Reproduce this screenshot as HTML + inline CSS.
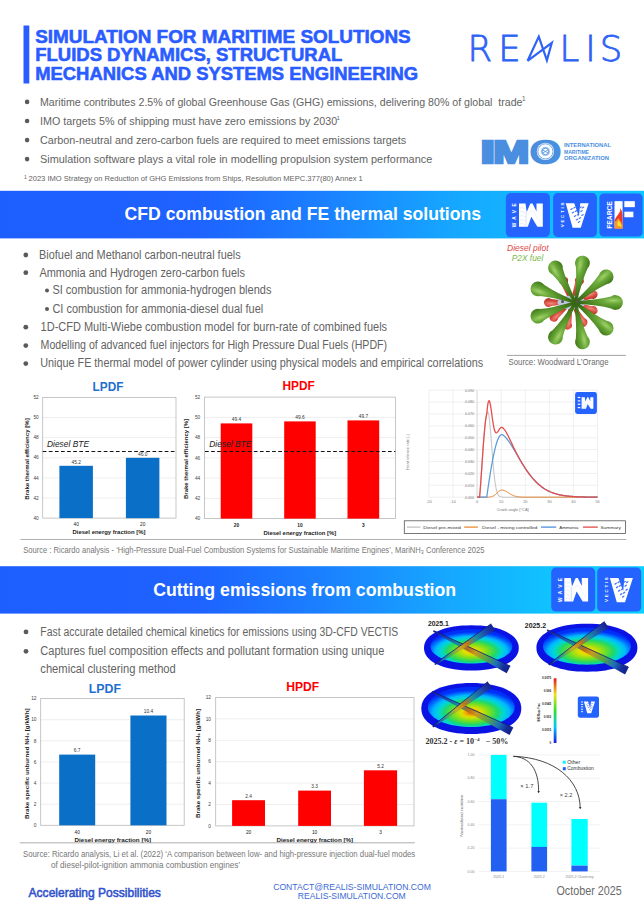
<!DOCTYPE html>
<html lang="en"><head><meta charset="utf-8"><title>Simulation for Maritime Solutions</title>
<style>html,body{margin:0;padding:0;background:#fff;width:644px;height:917px;overflow:hidden;}svg{display:block;}</style>
</head><body>
<svg width="644" height="917" viewBox="0 0 644 917" font-family="Liberation Sans, Arial, sans-serif">
<rect x="23.5" y="25.5" width="5.8" height="58.0" fill="#2a5cff"/>
<text x="35.2" y="43.0" font-size="17.5" font-weight="bold" fill="#2a5cff" textLength="375.5" lengthAdjust="spacingAndGlyphs" stroke="#2a5cff" stroke-width="0.55">SIMULATION FOR MARITIME SOLUTIONS</text>
<text x="35.2" y="61.2" font-size="17.5" font-weight="bold" fill="#2a5cff" textLength="307.2" lengthAdjust="spacingAndGlyphs" stroke="#2a5cff" stroke-width="0.55">FLUIDS DYNAMICS, STRUCTURAL</text>
<text x="35.2" y="79.5" font-size="17.5" font-weight="bold" fill="#2a5cff" textLength="383.0" lengthAdjust="spacingAndGlyphs" stroke="#2a5cff" stroke-width="0.55">MECHANICS AND SYSTEMS ENGINEERING</text>
<g font-family="DejaVu Sans, sans-serif" font-weight="200" font-size="35.5" fill="#2f63f5" stroke="#2f63f5" stroke-width="0.8"><text x="467.4" y="61.4">R</text><text x="498.3" y="61.4">E</text><text x="559.4" y="61.4">L</text><text x="585.2" y="61.4">I</text><text x="599.8" y="61.4">S</text></g>
<path d="M527.6 60.8 L538.8 36.6 L546.9 60.4 L551.8 42.8 Z" fill="none" stroke="#2f63f5" stroke-width="2.2" stroke-linejoin="miter"/>
<circle cx="27.1" cy="101.9" r="2.3" fill="#5a5a5a"/>
<text x="40.0" y="105.8" font-size="11.8" fill="#636363" textLength="482.5" lengthAdjust="spacingAndGlyphs">Maritime contributes 2.5% of global Greenhouse Gas (GHG) emissions, delivering 80% of global  trade</text>
<circle cx="27.1" cy="121.0" r="2.3" fill="#5a5a5a"/>
<text x="40.0" y="124.9" font-size="11.8" fill="#636363" textLength="297.2" lengthAdjust="spacingAndGlyphs">IMO targets 5% of shipping must have zero emissions by 2030</text>
<circle cx="27.1" cy="140.1" r="2.3" fill="#5a5a5a"/>
<text x="40.0" y="144.0" font-size="11.8" fill="#636363" textLength="366.2" lengthAdjust="spacingAndGlyphs">Carbon-neutral and zero-carbon fuels are required to meet emissions targets</text>
<circle cx="27.1" cy="159.1" r="2.3" fill="#5a5a5a"/>
<text x="40.0" y="163.0" font-size="11.8" fill="#636363" textLength="392.2" lengthAdjust="spacingAndGlyphs">Simulation software plays a vital role in modelling propulsion system performance</text>
<text x="522.0" y="101.2" font-size="6.4" fill="#636363">1</text>
<text x="336.5" y="120.0" font-size="6" fill="#636363">1</text>
<text x="24.0" y="178.5" font-size="5" fill="#636363">1</text>
<text x="28.5" y="181.0" font-size="7.6" fill="#636363" textLength="334.3" lengthAdjust="spacingAndGlyphs">2023 IMO Strategy on Reduction of GHG Emissions from Ships, Resolution MEPC.377(80) Annex 1</text>
<g font-size="31.5" font-weight="bold" fill="#4a8fdf" stroke="#4a8fdf" stroke-width="2.6" stroke-linejoin="miter"><text x="480.6" y="162.6" textLength="14.5" lengthAdjust="spacingAndGlyphs">I</text><text x="493.2" y="162.6" textLength="36" lengthAdjust="spacingAndGlyphs">M</text><text x="530.4" y="162.6" textLength="30.0" lengthAdjust="spacingAndGlyphs">O</text></g>
<circle cx="545.4" cy="151.4" r="8.6" fill="#fff"/>
<circle cx="545.4" cy="151.4" r="7.6" fill="none" stroke="#4a8fdf" stroke-width="0.8"/>
<circle cx="545.4" cy="151.4" r="4.6" fill="#9fc4ee"/>
<circle cx="545.4" cy="151.4" r="3.2" fill="#fff" stroke="#4a8fdf" stroke-width="0.8"/>
<path d="M542.5 149.8 L548.3 153.2 M542.5 153.2 L548.3 149.8" stroke="#4a8fdf" stroke-width="0.8"/>
<text x="564.0" y="146.8" font-size="6.2" font-weight="bold" fill="#4a8fdf" textLength="47.0" lengthAdjust="spacingAndGlyphs">INTERNATIONAL</text>
<text x="564.0" y="153.6" font-size="6.2" font-weight="bold" fill="#4a8fdf" textLength="25.0" lengthAdjust="spacingAndGlyphs">MARITIME</text>
<text x="564.0" y="160.4" font-size="6.2" font-weight="bold" fill="#4a8fdf" textLength="45.0" lengthAdjust="spacingAndGlyphs">ORGANIZATION</text>
<defs><linearGradient id="bg1" x1="0" y1="0" x2="644" y2="0" gradientUnits="userSpaceOnUse"><stop offset="0" stop-color="#1d5eff"/><stop offset="0.3" stop-color="#1e62ff"/><stop offset="0.5" stop-color="#1b80ff"/><stop offset="0.7" stop-color="#16a6ff"/><stop offset="0.85" stop-color="#12bbff"/><stop offset="1" stop-color="#0fc6ff"/></linearGradient><linearGradient id="bg2" x1="0" y1="0" x2="644" y2="0" gradientUnits="userSpaceOnUse"><stop offset="0" stop-color="#1d5eff"/><stop offset="0.3" stop-color="#1e62ff"/><stop offset="0.5" stop-color="#1b80ff"/><stop offset="0.7" stop-color="#16a8ff"/><stop offset="0.85" stop-color="#10c2ff"/><stop offset="1" stop-color="#0dd0ff"/></linearGradient></defs>
<rect x="0.0" y="190.8" width="644.0" height="47.6" fill="url(#bg1)"/>
<text x="124.6" y="220.4" font-size="18.6" font-weight="bold" fill="#fff" textLength="356.5" lengthAdjust="spacingAndGlyphs">CFD combustion and FE thermal solutions</text>
<rect x="505.9" y="193.0" width="44" height="44" rx="4.62" fill="#2563ff"/>
<path d="M519.00 203.50 L525.50 203.50 L526.70 211.90 L530.40 203.50 L532.50 203.50 L536.50 211.40 L536.50 203.50 L542.80 203.50 L542.80 226.80 L537.40 226.80 L531.30 216.80 L527.80 226.80 L519.00 226.80 Z" fill="#fff"/>
<path d="M526.10 212.00 L526.10 226.80" stroke="#b8ccff" stroke-width="0.60"/>
<path d="M519.70 208.00 Q522.90 206.50 525.30 209.20" fill="none" stroke="#c4d4ff" stroke-width="0.40"/>
<path d="M519.70 212.00 Q522.90 210.50 525.30 213.20" fill="none" stroke="#c4d4ff" stroke-width="0.40"/>
<path d="M519.70 216.00 Q522.90 214.50 525.30 217.20" fill="none" stroke="#c4d4ff" stroke-width="0.40"/>
<path d="M519.70 220.00 Q522.90 218.50 525.30 221.20" fill="none" stroke="#c4d4ff" stroke-width="0.40"/>
<path d="M519.70 224.00 Q522.90 222.50 525.30 225.20" fill="none" stroke="#c4d4ff" stroke-width="0.40"/>
<path d="M527.90 215.00 Q531.90 208.00 534.90 214.00 T540.90 223.00" fill="none" stroke="#d0defc" stroke-width="0.40"/>
<text transform="translate(516.30,227.30) rotate(-90)" font-size="4.80" font-weight="bold" fill="#fff" textLength="23.9" lengthAdjust="spacing">WAVE</text>
<rect x="553.1" y="193.1" width="43.8" height="43.8" rx="4.38" fill="#2563ff"/>
<path d="M565.74 203.35 L574.30 203.35 L578.88 216.69 L580.28 203.35 L588.64 203.35 L580.77 227.64 L572.61 227.64 Z" fill="#fff"/>
<ellipse cx="571.52" cy="209.03" rx="1.49" ry="0.70" fill="#4a78f5" transform="rotate(-35 571.52 209.03)"/>
<ellipse cx="574.50" cy="207.53" rx="1.49" ry="0.70" fill="#4a78f5" transform="rotate(-35 574.50 207.53)"/>
<ellipse cx="573.01" cy="212.51" rx="1.49" ry="0.70" fill="#4a78f5" transform="rotate(-35 573.01 212.51)"/>
<ellipse cx="576.00" cy="211.02" rx="1.49" ry="0.70" fill="#4a78f5" transform="rotate(-35 576.00 211.02)"/>
<ellipse cx="575.00" cy="216.00" rx="1.49" ry="0.70" fill="#4a78f5" transform="rotate(-35 575.00 216.00)"/>
<ellipse cx="577.99" cy="214.50" rx="1.49" ry="0.70" fill="#4a78f5" transform="rotate(-35 577.99 214.50)"/>
<ellipse cx="576.99" cy="219.48" rx="1.49" ry="0.70" fill="#4a78f5" transform="rotate(-35 576.99 219.48)"/>
<ellipse cx="579.98" cy="217.99" rx="1.49" ry="0.70" fill="#4a78f5" transform="rotate(-35 579.98 217.99)"/>
<ellipse cx="578.98" cy="221.97" rx="1.49" ry="0.70" fill="#4a78f5" transform="rotate(-35 578.98 221.97)"/>
<ellipse cx="581.47" cy="211.02" rx="1.49" ry="0.70" fill="#4a78f5" transform="rotate(-35 581.47 211.02)"/>
<ellipse cx="582.96" cy="207.53" rx="1.49" ry="0.70" fill="#4a78f5" transform="rotate(-35 582.96 207.53)"/>
<ellipse cx="582.47" cy="215.00" rx="1.49" ry="0.70" fill="#4a78f5" transform="rotate(-35 582.47 215.00)"/>
<ellipse cx="580.48" cy="207.24" rx="1.49" ry="0.70" fill="#4a78f5" transform="rotate(-35 580.48 207.24)"/>
<text transform="translate(563.85,227.24) rotate(-90)" font-size="4.38" font-weight="bold" fill="#fff" textLength="24.6" lengthAdjust="spacing">VECTIS</text>
<rect x="599.4" y="193.4" width="43.2" height="43.2" rx="4.32" fill="#2563ff"/>
<path d="M614.52 201.16 L622.57 201.16 L622.57 228.45 L614.52 228.45 Z" fill="#fff"/>
<path d="M624.34 201.16 L634.84 201.16 L634.84 207.15 L624.34 207.15 Z" fill="#fff"/>
<path d="M624.34 211.66 L633.37 211.66 L633.37 217.26 L624.34 217.26 Z" fill="#fff"/>
<path d="M614.72 228.45 L614.72 219.91 C616.09 216.96 618.05 215.00 619.04 213.04 C620.51 211.07 620.51 209.60 620.02 208.13 C622.47 210.09 622.57 215.00 622.57 217.95 L622.57 228.45 Z" fill="#f03a28"/>
<path d="M614.72 228.45 L614.72 221.87 C616.09 220.89 617.56 219.91 618.05 217.95 C620.02 219.91 621.98 222.85 622.57 225.80 L622.57 228.45 Z" fill="#f39a2a"/>
<path d="M617.56 225.80 C617.07 222.85 618.05 220.89 618.84 219.91 C619.53 221.87 621.00 223.84 621.49 226.78 Z" fill="#ffe030"/>
<text transform="translate(611.77,228.84) rotate(-90)" font-size="6.68" font-weight="bold" fill="#fff" textLength="27.7" lengthAdjust="spacingAndGlyphs">FEARCE</text>
<circle cx="25.8" cy="255.0" r="2.4" fill="#5a5a5a"/>
<text x="39.1" y="258.8" font-size="12.0" fill="#636363" textLength="201.5" lengthAdjust="spacingAndGlyphs">Biofuel and Methanol carbon-neutral fuels</text>
<circle cx="25.8" cy="272.7" r="2.4" fill="#5a5a5a"/>
<text x="39.4" y="276.5" font-size="12.0" fill="#636363" textLength="205.5" lengthAdjust="spacingAndGlyphs">Ammonia and Hydrogen zero-carbon fuels</text>
<circle cx="47.0" cy="290.4" r="2.0" fill="#5a5a5a"/>
<text x="52.4" y="294.2" font-size="12.0" fill="#636363" textLength="219.0" lengthAdjust="spacingAndGlyphs">SI combustion for ammonia-hydrogen blends</text>
<circle cx="47.0" cy="309.1" r="2.0" fill="#5a5a5a"/>
<text x="52.4" y="312.9" font-size="12.0" fill="#636363" textLength="210.8" lengthAdjust="spacingAndGlyphs">CI combustion for ammonia-diesel dual fuel</text>
<circle cx="25.8" cy="327.2" r="2.4" fill="#5a5a5a"/>
<text x="40.6" y="331.0" font-size="12.0" fill="#636363" textLength="346.5" lengthAdjust="spacingAndGlyphs">1D-CFD Multi-Wiebe combustion model for burn-rate of combined fuels</text>
<circle cx="25.8" cy="345.6" r="2.4" fill="#5a5a5a"/>
<text x="40.6" y="349.4" font-size="12.0" fill="#636363" textLength="346.5" lengthAdjust="spacingAndGlyphs">Modelling of advanced fuel injectors for High Pressure Dual Fuels (HPDF)</text>
<circle cx="25.8" cy="363.6" r="2.4" fill="#5a5a5a"/>
<text x="40.2" y="367.4" font-size="12.0" fill="#636363" textLength="443.0" lengthAdjust="spacingAndGlyphs">Unique FE thermal model of power cylinder using physical models and empirical correlations</text>
<text x="507.0" y="250.6" font-size="8.2" font-style="italic" fill="#e04848" textLength="41.5" lengthAdjust="spacingAndGlyphs">Diesel pilot</text>
<text x="511.8" y="261.0" font-size="8.2" font-style="italic" fill="#7cb84a" textLength="31.5" lengthAdjust="spacingAndGlyphs">P2X fuel</text>
<defs><radialGradient id="gg" cx="0.8" cy="0.36" r="0.75"><stop offset="0" stop-color="#a2d26a"/><stop offset="0.3" stop-color="#6aa83a"/><stop offset="0.72" stop-color="#4a8420"/><stop offset="1" stop-color="#376614"/></radialGradient><radialGradient id="rg" cx="0.75" cy="0.38" r="0.75"><stop offset="0" stop-color="#f08a7a"/><stop offset="0.4" stop-color="#d4483c"/><stop offset="1" stop-color="#9a2a1e"/></radialGradient></defs>
<g transform="translate(571.5,302.5) rotate(20.0)"><path d="M0 -1.2 Q12.88 -2.50 20.36 -3.52 A4.40 4.40 0 1 1 20.36 3.52 Q12.88 2.50 0 1.2 Z" fill="url(#rg)"/></g>
<g transform="translate(571.5,302.5) rotate(60.0)"><path d="M0 -1.2 Q12.88 -2.50 20.36 -3.52 A4.40 4.40 0 1 1 20.36 3.52 Q12.88 2.50 0 1.2 Z" fill="url(#rg)"/></g>
<g transform="translate(571.5,302.5) rotate(100.0)"><path d="M0 -1.2 Q12.88 -2.50 20.36 -3.52 A4.40 4.40 0 1 1 20.36 3.52 Q12.88 2.50 0 1.2 Z" fill="url(#rg)"/></g>
<g transform="translate(571.5,302.5) rotate(140.0)"><path d="M0 -1.2 Q12.88 -2.50 20.36 -3.52 A4.40 4.40 0 1 1 20.36 3.52 Q12.88 2.50 0 1.2 Z" fill="url(#rg)"/></g>
<g transform="translate(571.5,302.5) rotate(180.0)"><path d="M0 -1.2 Q12.88 -2.50 20.36 -3.52 A4.40 4.40 0 1 1 20.36 3.52 Q12.88 2.50 0 1.2 Z" fill="url(#rg)"/></g>
<g transform="translate(571.5,302.5) rotate(250.0)"><path d="M0 -1.2 Q12.88 -2.50 20.36 -3.52 A4.40 4.40 0 1 1 20.36 3.52 Q12.88 2.50 0 1.2 Z" fill="url(#rg)"/></g>
<g transform="translate(571.5,302.5) rotate(290.0)"><path d="M0 -1.2 Q12.88 -2.50 20.36 -3.52 A4.40 4.40 0 1 1 20.36 3.52 Q12.88 2.50 0 1.2 Z" fill="url(#rg)"/></g>
<g transform="translate(571.5,302.5) rotate(340.0)"><path d="M0 -1.2 Q12.88 -2.50 20.36 -3.52 A4.40 4.40 0 1 1 20.36 3.52 Q12.88 2.50 0 1.2 Z" fill="url(#rg)"/></g>
<ellipse cx="571.5" cy="302.5" rx="14" ry="7" fill="#bcc6dc"/>
<g transform="translate(575.5,302.5) rotate(-120.0)"><path d="M0 -1.3 Q22.98 -2.60 35.56 -5.92 A7.40 7.40 0 1 1 35.56 5.92 Q22.98 2.60 0 1.3 Z" fill="url(#gg)"/></g>
<g transform="translate(575.5,302.5) rotate(-80.0)"><path d="M0 -1.3 Q22.98 -2.60 35.56 -5.92 A7.40 7.40 0 1 1 35.56 5.92 Q22.98 2.60 0 1.3 Z" fill="url(#gg)"/></g>
<g transform="translate(575.5,302.5) rotate(-40.0)"><path d="M0 -1.3 Q22.98 -2.60 35.56 -5.92 A7.40 7.40 0 1 1 35.56 5.92 Q22.98 2.60 0 1.3 Z" fill="url(#gg)"/></g>
<g transform="translate(575.5,302.5) rotate(0.0)"><path d="M0 -1.3 Q22.98 -2.60 35.56 -5.92 A7.40 7.40 0 1 1 35.56 5.92 Q22.98 2.60 0 1.3 Z" fill="url(#gg)"/></g>
<g transform="translate(575.5,302.5) rotate(40.0)"><path d="M0 -1.3 Q22.98 -2.60 35.56 -5.92 A7.40 7.40 0 1 1 35.56 5.92 Q22.98 2.60 0 1.3 Z" fill="url(#gg)"/></g>
<g transform="translate(575.5,302.5) rotate(80.0)"><path d="M0 -1.3 Q22.98 -2.60 35.56 -5.92 A7.40 7.40 0 1 1 35.56 5.92 Q22.98 2.60 0 1.3 Z" fill="url(#gg)"/></g>
<g transform="translate(575.5,302.5) rotate(120.0)"><path d="M0 -1.3 Q22.98 -2.60 35.56 -5.92 A7.40 7.40 0 1 1 35.56 5.92 Q22.98 2.60 0 1.3 Z" fill="url(#gg)"/></g>
<g transform="translate(575.5,302.5) rotate(160.0)"><path d="M0 -1.3 Q22.98 -2.60 35.56 -5.92 A7.40 7.40 0 1 1 35.56 5.92 Q22.98 2.60 0 1.3 Z" fill="url(#gg)"/></g>
<g transform="translate(575.5,302.5) rotate(200.0)"><path d="M0 -1.3 Q22.98 -2.60 35.56 -5.92 A7.40 7.40 0 1 1 35.56 5.92 Q22.98 2.60 0 1.3 Z" fill="url(#gg)"/></g>
<circle cx="562.5" cy="301.5" r="1.5" fill="#555"/><circle cx="577.5" cy="301.5" r="1.5" fill="#555"/>
<line x1="507.0" y1="355.4" x2="626.0" y2="355.4" stroke="#8a8a8a" stroke-width="0.8"/>
<text x="508.5" y="364.7" font-size="8.5" fill="#6b6b6b" textLength="100.0" lengthAdjust="spacingAndGlyphs">Source: Woodward L’Orange</text>
<text x="38.8" y="519.8" font-size="4.8" text-anchor="end" fill="#444">40</text>
<line x1="42.7" y1="498.0" x2="176.0" y2="498.0" stroke="#e3e3e3" stroke-width="0.6"/>
<text x="38.8" y="499.7" font-size="4.8" text-anchor="end" fill="#444">42</text>
<line x1="42.7" y1="477.9" x2="176.0" y2="477.9" stroke="#e3e3e3" stroke-width="0.6"/>
<text x="38.8" y="479.6" font-size="4.8" text-anchor="end" fill="#444">44</text>
<line x1="42.7" y1="457.8" x2="176.0" y2="457.8" stroke="#e3e3e3" stroke-width="0.6"/>
<text x="38.8" y="459.4" font-size="4.8" text-anchor="end" fill="#444">46</text>
<line x1="42.7" y1="437.6" x2="176.0" y2="437.6" stroke="#e3e3e3" stroke-width="0.6"/>
<text x="38.8" y="439.3" font-size="4.8" text-anchor="end" fill="#444">48</text>
<line x1="42.7" y1="417.5" x2="176.0" y2="417.5" stroke="#e3e3e3" stroke-width="0.6"/>
<text x="38.8" y="419.2" font-size="4.8" text-anchor="end" fill="#444">50</text>
<text x="38.8" y="399.1" font-size="4.8" text-anchor="end" fill="#444">52</text>
<rect x="42.7" y="397.4" width="133.3" height="120.7" fill="none" stroke="#b8b8b8" stroke-width="0.8"/>
<rect x="59.4" y="465.8" width="33.5" height="52.3" fill="#0a6fc6"/>
<text x="76.2" y="463.6" font-size="4.8" text-anchor="middle" fill="#333">45.2</text>
<text x="76.2" y="526.3" font-size="4.8" text-anchor="middle" fill="#222">40</text>
<rect x="125.9" y="457.8" width="33.5" height="60.4" fill="#0a6fc6"/>
<text x="142.7" y="455.6" font-size="4.8" text-anchor="middle" fill="#333">46.0</text>
<text x="142.7" y="526.3" font-size="4.8" text-anchor="middle" fill="#222">20</text>
<text x="109.0" y="534.4" font-size="6.0" font-weight="bold" text-anchor="middle" fill="#222" textLength="73.0" lengthAdjust="spacingAndGlyphs">Diesel energy fraction [%]</text>
<text transform="translate(28.6,459.0) rotate(-90)" font-size="6.2" font-weight="bold" fill="#222" text-anchor="middle" textLength="81.5" lengthAdjust="spacingAndGlyphs">Brake thermal efficiency [%]</text>
<text x="200.3" y="520.3" font-size="4.8" text-anchor="end" fill="#444">40</text>
<line x1="204.5" y1="498.4" x2="395.4" y2="498.4" stroke="#e3e3e3" stroke-width="0.6"/>
<text x="200.3" y="500.1" font-size="4.8" text-anchor="end" fill="#444">42</text>
<line x1="204.5" y1="478.1" x2="395.4" y2="478.1" stroke="#e3e3e3" stroke-width="0.6"/>
<text x="200.3" y="479.8" font-size="4.8" text-anchor="end" fill="#444">44</text>
<line x1="204.5" y1="457.9" x2="395.4" y2="457.9" stroke="#e3e3e3" stroke-width="0.6"/>
<text x="200.3" y="459.6" font-size="4.8" text-anchor="end" fill="#444">46</text>
<line x1="204.5" y1="437.6" x2="395.4" y2="437.6" stroke="#e3e3e3" stroke-width="0.6"/>
<text x="200.3" y="439.3" font-size="4.8" text-anchor="end" fill="#444">48</text>
<line x1="204.5" y1="417.4" x2="395.4" y2="417.4" stroke="#e3e3e3" stroke-width="0.6"/>
<text x="200.3" y="419.1" font-size="4.8" text-anchor="end" fill="#444">50</text>
<text x="200.3" y="398.8" font-size="4.8" text-anchor="end" fill="#444">52</text>
<rect x="204.5" y="397.1" width="190.9" height="121.5" fill="none" stroke="#b8b8b8" stroke-width="0.8"/>
<rect x="220.7" y="423.4" width="31.6" height="95.2" fill="#ff0000"/>
<text x="236.5" y="421.2" font-size="4.8" text-anchor="middle" fill="#333">49.4</text>
<text x="236.5" y="526.8" font-size="4.8" font-weight="bold" text-anchor="middle" fill="#222">20</text>
<rect x="284.2" y="421.4" width="31.5" height="97.2" fill="#ff0000"/>
<text x="299.9" y="419.2" font-size="4.8" text-anchor="middle" fill="#333">49.6</text>
<text x="299.9" y="526.8" font-size="4.8" font-weight="bold" text-anchor="middle" fill="#222">10</text>
<rect x="347.5" y="420.4" width="31.7" height="98.2" fill="#ff0000"/>
<text x="363.4" y="418.2" font-size="4.8" text-anchor="middle" fill="#333">49.7</text>
<text x="363.4" y="526.8" font-size="4.8" font-weight="bold" text-anchor="middle" fill="#222">3</text>
<text x="299.9" y="534.9" font-size="6.0" font-weight="bold" text-anchor="middle" fill="#222" textLength="72.8" lengthAdjust="spacingAndGlyphs">Diesel energy fraction [%]</text>
<text transform="translate(187.9,459.0) rotate(-90)" font-size="6.2" font-weight="bold" fill="#222" text-anchor="middle" textLength="80.0" lengthAdjust="spacingAndGlyphs">Brake thermal efficiency [%]</text>
<text x="92.6" y="391.4" font-size="12.2" font-weight="bold" fill="#1f6fd0" textLength="30.8" lengthAdjust="spacingAndGlyphs">LPDF</text>
<text x="282.5" y="389.8" font-size="12.2" font-weight="bold" fill="#ff0000" textLength="32.3" lengthAdjust="spacingAndGlyphs">HPDF</text>
<line x1="42.7" y1="451.5" x2="175.8" y2="451.5" stroke="#111" stroke-width="1.2" stroke-dasharray="3.7 2.4"/>
<line x1="205.0" y1="451.5" x2="395.4" y2="451.5" stroke="#111" stroke-width="1.2" stroke-dasharray="3.7 2.4"/>
<text x="47.0" y="447.0" font-size="9.2" font-style="italic" fill="#222" textLength="42.0" lengthAdjust="spacingAndGlyphs">Diesel BTE</text>
<text x="209.3" y="447.3" font-size="9.2" font-style="italic" fill="#222" textLength="42.0" lengthAdjust="spacingAndGlyphs">Diesel BTE</text>
<line x1="429.0" y1="390.2" x2="429.0" y2="497.2" stroke="#e6e6e6" stroke-width="0.6"/>
<text x="429.0" y="502.8" font-size="3.8" text-anchor="middle" fill="#777">-20</text>
<line x1="453.1" y1="390.2" x2="453.1" y2="497.2" stroke="#e6e6e6" stroke-width="0.6"/>
<text x="453.1" y="502.8" font-size="3.8" text-anchor="middle" fill="#777">-10</text>
<line x1="477.1" y1="390.2" x2="477.1" y2="497.2" stroke="#e6e6e6" stroke-width="0.6"/>
<text x="477.1" y="502.8" font-size="3.8" text-anchor="middle" fill="#777">0</text>
<line x1="501.2" y1="390.2" x2="501.2" y2="497.2" stroke="#e6e6e6" stroke-width="0.6"/>
<text x="501.2" y="502.8" font-size="3.8" text-anchor="middle" fill="#777">10</text>
<line x1="525.3" y1="390.2" x2="525.3" y2="497.2" stroke="#e6e6e6" stroke-width="0.6"/>
<text x="525.3" y="502.8" font-size="3.8" text-anchor="middle" fill="#777">20</text>
<line x1="549.4" y1="390.2" x2="549.4" y2="497.2" stroke="#e6e6e6" stroke-width="0.6"/>
<text x="549.4" y="502.8" font-size="3.8" text-anchor="middle" fill="#777">30</text>
<line x1="573.4" y1="390.2" x2="573.4" y2="497.2" stroke="#e6e6e6" stroke-width="0.6"/>
<text x="573.4" y="502.8" font-size="3.8" text-anchor="middle" fill="#777">40</text>
<line x1="597.5" y1="390.2" x2="597.5" y2="497.2" stroke="#e6e6e6" stroke-width="0.6"/>
<text x="597.5" y="502.8" font-size="3.8" text-anchor="middle" fill="#777">50</text>
<line x1="429.0" y1="497.2" x2="597.5" y2="497.2" stroke="#e6e6e6" stroke-width="0.6"/>
<text x="473.9" y="498.5" font-size="3.6" text-anchor="end" fill="#777">0.000</text>
<line x1="429.0" y1="485.3" x2="597.5" y2="485.3" stroke="#e6e6e6" stroke-width="0.6"/>
<text x="473.9" y="486.6" font-size="3.6" text-anchor="end" fill="#777">0.010</text>
<line x1="429.0" y1="473.4" x2="597.5" y2="473.4" stroke="#e6e6e6" stroke-width="0.6"/>
<text x="473.9" y="474.7" font-size="3.6" text-anchor="end" fill="#777">0.020</text>
<line x1="429.0" y1="461.5" x2="597.5" y2="461.5" stroke="#e6e6e6" stroke-width="0.6"/>
<text x="473.9" y="462.8" font-size="3.6" text-anchor="end" fill="#777">0.030</text>
<line x1="429.0" y1="449.6" x2="597.5" y2="449.6" stroke="#e6e6e6" stroke-width="0.6"/>
<text x="473.9" y="450.9" font-size="3.6" text-anchor="end" fill="#777">0.040</text>
<line x1="429.0" y1="437.8" x2="597.5" y2="437.8" stroke="#e6e6e6" stroke-width="0.6"/>
<text x="473.9" y="439.1" font-size="3.6" text-anchor="end" fill="#777">0.050</text>
<line x1="429.0" y1="425.9" x2="597.5" y2="425.9" stroke="#e6e6e6" stroke-width="0.6"/>
<text x="473.9" y="427.2" font-size="3.6" text-anchor="end" fill="#777">0.060</text>
<line x1="429.0" y1="414.0" x2="597.5" y2="414.0" stroke="#e6e6e6" stroke-width="0.6"/>
<text x="473.9" y="415.3" font-size="3.6" text-anchor="end" fill="#777">0.070</text>
<line x1="429.0" y1="402.1" x2="597.5" y2="402.1" stroke="#e6e6e6" stroke-width="0.6"/>
<text x="473.9" y="403.4" font-size="3.6" text-anchor="end" fill="#777">0.080</text>
<line x1="429.0" y1="390.2" x2="597.5" y2="390.2" stroke="#e6e6e6" stroke-width="0.6"/>
<text x="473.9" y="391.5" font-size="3.6" text-anchor="end" fill="#777">0.090</text>
<line x1="477.1" y1="390.2" x2="477.1" y2="497.2" stroke="#cfcfcf" stroke-width="0.6"/>
<path d="M477.14 497.20 L477.74 497.20 L478.35 497.20 L478.95 497.20 L479.55 497.20 L480.15 490.82 L480.75 482.67 L481.36 473.87 L481.96 464.87 L482.56 455.97 L483.16 447.41 L483.76 439.42 L484.36 432.18 L484.97 425.86 L485.57 420.60 L486.17 416.51 L486.77 413.70 L487.37 412.20 L487.98 412.12 L488.58 413.91 L489.18 417.56 L489.78 422.84 L490.38 429.39 L490.98 436.80 L491.59 444.66 L492.19 452.56 L492.79 460.17 L493.39 467.19 L493.99 473.45 L494.59 478.84 L495.20 483.34 L495.80 486.98 L496.40 489.84 L497.00 492.03 L497.60 493.65 L498.21 494.82 L498.81 495.64 L499.41 496.20 L500.01 496.58 L500.61 496.82 L501.21 496.97 L501.82 497.07 L502.42 497.12 L503.02 497.16 L503.62 497.18 L504.22 497.19 L504.82 497.19 L505.43 497.20 L506.03 497.20 L506.63 497.20 L507.23 497.20 L507.83 497.20 L508.44 497.20 L509.04 497.20 L509.64 497.20 L510.24 497.20 L510.84 497.20 L511.44 497.20 L512.05 497.20 L512.65 497.20 L513.25 497.20 L513.85 497.20 L514.45 497.20 L515.06 497.20 L515.66 497.20 L516.26 497.20 L516.86 497.20 L517.46 497.20 L518.06 497.20 L518.67 497.20 L519.27 497.20 L519.87 497.20 L520.47 497.20 L521.07 497.20 L521.67 497.20 L522.28 497.20 L522.88 497.20 L523.48 497.20 L524.08 497.20 L524.68 497.20 L525.29 497.20 L525.89 497.20 L526.49 497.20 L527.09 497.20 L527.69 497.20 L528.29 497.20 L528.90 497.20 L529.50 497.20 L530.10 497.20 L530.70 497.20 L531.30 497.20 L531.91 497.20 L532.51 497.20 L533.11 497.20 L533.71 497.20 L534.31 497.20 L534.91 497.20 L535.52 497.20 L536.12 497.20 L536.72 497.20 L537.32 497.20 L537.92 497.20 L538.52 497.20 L539.13 497.20 L539.73 497.20 L540.33 497.20 L540.93 497.20 L541.53 497.20 L542.14 497.20 L542.74 497.20 L543.34 497.20 L543.94 497.20 L544.54 497.20 L545.14 497.20 L545.75 497.20 L546.35 497.20 L546.95 497.20 L547.55 497.20 L548.15 497.20 L548.76 497.20 L549.36 497.20 L549.96 497.20 L550.56 497.20 L551.16 497.20 L551.76 497.20 L552.37 497.20 L552.97 497.20 L553.57 497.20 L554.17 497.20 L554.77 497.20 L555.38 497.20 L555.98 497.20 L556.58 497.20 L557.18 497.20 L557.78 497.20 L558.38 497.20 L558.99 497.20 L559.59 497.20 L560.19 497.20 L560.79 497.20 L561.39 497.20 L561.99 497.20 L562.60 497.20 L563.20 497.20 L563.80 497.20 L564.40 497.20 L565.00 497.20 L565.61 497.20 L566.21 497.20 L566.81 497.20 L567.41 497.20 L568.01 497.20 L568.61 497.20 L569.22 497.20 L569.82 497.20 L570.42 497.20 L571.02 497.20 L571.62 497.20 L572.23 497.20 L572.83 497.20 L573.43 497.20 L574.03 497.20 L574.63 497.20 L575.23 497.20 L575.84 497.20 L576.44 497.20 L577.04 497.20 L577.64 497.20 L578.24 497.20 L578.84 497.20 L579.45 497.20 L580.05 497.20 L580.65 497.20 L581.25 497.20 L581.85 497.20 L582.46 497.20 L583.06 497.20 L583.66 497.20 L584.26 497.20 L584.86 497.20 L585.46 497.20 L586.07 497.20 L586.67 497.20 L587.27 497.20 L587.87 497.20 L588.47 497.20 L589.08 497.20 L589.68 497.20 L590.28 497.20 L590.88 497.20 L591.48 497.20 L592.08 497.20 L592.69 497.20 L593.29 497.20 L593.89 497.20 L594.49 497.20 L595.09 497.20 L595.69 497.20 L596.30 497.20 L596.90 497.20 L597.50 497.20" fill="none" stroke="#c8c8c8" stroke-width="1.1"/>
<path d="M477.14 497.20 L477.74 497.20 L478.35 497.20 L478.95 497.20 L479.55 497.20 L480.15 497.20 L480.75 497.20 L481.36 497.20 L481.96 497.20 L482.56 497.20 L483.16 497.20 L483.76 497.20 L484.36 497.20 L484.97 497.20 L485.57 497.20 L486.17 497.20 L486.77 497.20 L487.37 497.20 L487.98 497.20 L488.58 497.20 L489.18 497.07 L489.78 497.01 L490.38 496.93 L490.98 496.82 L491.59 496.68 L492.19 496.49 L492.79 496.26 L493.39 495.97 L493.99 495.63 L494.59 495.23 L495.20 494.77 L495.80 494.26 L496.40 493.71 L497.00 493.14 L497.60 492.55 L498.21 491.97 L498.81 491.44 L499.41 490.96 L500.01 490.57 L500.61 490.28 L501.21 490.11 L501.82 490.07 L502.42 490.11 L503.02 490.20 L503.62 490.35 L504.22 490.54 L504.82 490.78 L505.43 491.06 L506.03 491.37 L506.63 491.71 L507.23 492.07 L507.83 492.45 L508.44 492.83 L509.04 493.21 L509.64 493.59 L510.24 493.95 L510.84 494.31 L511.44 494.64 L512.05 494.95 L512.65 495.24 L513.25 495.51 L513.85 495.75 L514.45 495.97 L515.06 496.16 L515.66 496.33 L516.26 496.48 L516.86 496.60 L517.46 496.71 L518.06 496.80 L518.67 496.88 L519.27 496.94 L519.87 497.00 L520.47 497.04 L521.07 497.08 L521.67 497.10 L522.28 497.13 L522.88 497.14 L523.48 497.16 L524.08 497.17 L524.68 497.18 L525.29 497.18 L525.89 497.19 L526.49 497.19 L527.09 497.19 L527.69 497.20 L528.29 497.20 L528.90 497.20 L529.50 497.20 L530.10 497.20 L530.70 497.20 L531.30 497.20 L531.91 497.20 L532.51 497.20 L533.11 497.20 L533.71 497.20 L534.31 497.20 L534.91 497.20 L535.52 497.20 L536.12 497.20 L536.72 497.20 L537.32 497.20 L537.92 497.20 L538.52 497.20 L539.13 497.20 L539.73 497.20 L540.33 497.20 L540.93 497.20 L541.53 497.20 L542.14 497.20 L542.74 497.20 L543.34 497.20 L543.94 497.20 L544.54 497.20 L545.14 497.20 L545.75 497.20 L546.35 497.20 L546.95 497.20 L547.55 497.20 L548.15 497.20 L548.76 497.20 L549.36 497.20 L549.96 497.20 L550.56 497.20 L551.16 497.20 L551.76 497.20 L552.37 497.20 L552.97 497.20 L553.57 497.20 L554.17 497.20 L554.77 497.20 L555.38 497.20 L555.98 497.20 L556.58 497.20 L557.18 497.20 L557.78 497.20 L558.38 497.20 L558.99 497.20 L559.59 497.20 L560.19 497.20 L560.79 497.20 L561.39 497.20 L561.99 497.20 L562.60 497.20 L563.20 497.20 L563.80 497.20 L564.40 497.20 L565.00 497.20 L565.61 497.20 L566.21 497.20 L566.81 497.20 L567.41 497.20 L568.01 497.20 L568.61 497.20 L569.22 497.20 L569.82 497.20 L570.42 497.20 L571.02 497.20 L571.62 497.20 L572.23 497.20 L572.83 497.20 L573.43 497.20 L574.03 497.20 L574.63 497.20 L575.23 497.20 L575.84 497.20 L576.44 497.20 L577.04 497.20 L577.64 497.20 L578.24 497.20 L578.84 497.20 L579.45 497.20 L580.05 497.20 L580.65 497.20 L581.25 497.20 L581.85 497.20 L582.46 497.20 L583.06 497.20 L583.66 497.20 L584.26 497.20 L584.86 497.20 L585.46 497.20 L586.07 497.20 L586.67 497.20 L587.27 497.20 L587.87 497.20 L588.47 497.20 L589.08 497.20 L589.68 497.20 L590.28 497.20 L590.88 497.20 L591.48 497.20 L592.08 497.20 L592.69 497.20 L593.29 497.20 L593.89 497.20 L594.49 497.20 L595.09 497.20 L595.69 497.20 L596.30 497.20 L596.90 497.20 L597.50 497.20" fill="none" stroke="#e8822a" stroke-width="1"/>
<path d="M477.14 497.20 L477.74 497.20 L478.35 497.20 L478.95 497.20 L479.55 497.20 L480.15 497.20 L480.75 497.20 L481.36 497.20 L481.96 497.20 L482.56 497.20 L483.16 497.20 L483.76 497.20 L484.36 497.20 L484.97 497.20 L485.57 497.20 L486.17 497.20 L486.77 497.20 L487.37 492.66 L487.98 488.44 L488.58 484.36 L489.18 480.40 L489.78 476.56 L490.38 472.82 L490.98 469.21 L491.59 465.73 L492.19 462.39 L492.79 459.20 L493.39 456.17 L493.99 453.30 L494.59 450.62 L495.20 448.11 L495.80 445.80 L496.40 443.69 L497.00 441.79 L497.60 440.10 L498.21 438.64 L498.81 437.39 L499.41 436.38 L500.01 435.60 L500.61 435.05 L501.21 434.74 L501.82 434.67 L502.42 434.85 L503.02 435.15 L503.62 435.54 L504.22 436.01 L504.82 436.55 L505.43 437.15 L506.03 437.80 L506.63 438.50 L507.23 439.25 L507.83 440.04 L508.44 440.86 L509.04 441.71 L509.64 442.60 L510.24 443.51 L510.84 444.44 L511.44 445.40 L512.05 446.37 L512.65 447.36 L513.25 448.36 L513.85 449.37 L514.45 450.39 L515.06 451.41 L515.66 452.44 L516.26 453.48 L516.86 454.51 L517.46 455.55 L518.06 456.58 L518.67 457.61 L519.27 458.63 L519.87 459.65 L520.47 460.66 L521.07 461.66 L521.67 462.66 L522.28 463.64 L522.88 464.61 L523.48 465.57 L524.08 466.51 L524.68 467.45 L525.29 468.37 L525.89 469.27 L526.49 470.16 L527.09 471.03 L527.69 471.89 L528.29 472.73 L528.90 473.55 L529.50 474.35 L530.10 475.14 L530.70 475.91 L531.30 476.67 L531.91 477.40 L532.51 478.12 L533.11 478.82 L533.71 479.50 L534.31 480.16 L534.91 480.80 L535.52 481.43 L536.12 482.04 L536.72 482.63 L537.32 483.21 L537.92 483.77 L538.52 484.31 L539.13 484.83 L539.73 485.34 L540.33 485.83 L540.93 486.30 L541.53 486.76 L542.14 487.21 L542.74 487.64 L543.34 488.05 L543.94 488.45 L544.54 488.83 L545.14 489.21 L545.75 489.56 L546.35 489.91 L546.95 490.24 L547.55 490.56 L548.15 490.87 L548.76 491.16 L549.36 491.44 L549.96 491.71 L550.56 491.98 L551.16 492.23 L551.76 492.47 L552.37 492.70 L552.97 492.92 L553.57 493.13 L554.17 493.33 L554.77 493.52 L555.38 493.71 L555.98 493.88 L556.58 494.05 L557.18 494.21 L557.78 494.37 L558.38 494.52 L558.99 494.66 L559.59 494.79 L560.19 494.92 L560.79 495.04 L561.39 495.15 L561.99 495.26 L562.60 495.37 L563.20 495.47 L563.80 495.56 L564.40 495.65 L565.00 495.74 L565.61 495.82 L566.21 495.90 L566.81 495.97 L567.41 496.04 L568.01 496.11 L568.61 496.17 L569.22 496.23 L569.82 496.28 L570.42 496.34 L571.02 496.39 L571.62 496.44 L572.23 496.48 L572.83 496.52 L573.43 496.56 L574.03 496.60 L574.63 496.64 L575.23 496.67 L575.84 496.70 L576.44 496.73 L577.04 496.76 L577.64 496.79 L578.24 496.82 L578.84 496.84 L579.45 496.86 L580.05 496.88 L580.65 496.90 L581.25 496.92 L581.85 496.94 L582.46 496.96 L583.06 496.97 L583.66 496.99 L584.26 497.00 L584.86 497.01 L585.46 497.03 L586.07 497.04 L586.67 497.05 L587.27 497.06 L587.87 497.07 L588.47 497.08 L589.08 497.08 L589.68 497.09 L590.28 497.10 L590.88 497.11 L591.48 497.11 L592.08 497.12 L592.69 497.12 L593.29 497.13 L593.89 497.13 L594.49 497.14 L595.09 497.14 L595.69 497.15 L596.30 497.15 L596.90 497.15 L597.50 497.16" fill="none" stroke="#5b9bd8" stroke-width="1.25"/>
<path d="M477.14 497.20 L477.74 497.20 L478.35 497.20 L478.95 497.20 L479.55 497.20 L480.15 490.82 L480.75 482.67 L481.36 473.87 L481.96 464.87 L482.56 455.97 L483.16 447.41 L483.76 439.42 L484.36 432.18 L484.97 425.86 L485.57 420.60 L486.17 416.51 L486.77 413.70 L487.37 407.66 L487.98 403.36 L488.58 401.07 L489.18 400.64 L489.78 402.00 L490.38 404.74 L490.98 408.43 L491.59 412.67 L492.19 417.05 L492.79 421.23 L493.39 424.93 L493.99 427.99 L494.59 430.29 L495.20 431.83 L495.80 432.65 L496.40 432.85 L497.00 432.55 L497.60 431.90 L498.21 431.03 L498.81 430.07 L499.41 429.14 L500.01 428.34 L500.61 427.75 L501.21 427.42 L501.82 427.41 L502.42 427.68 L503.02 428.10 L503.62 428.66 L504.22 429.34 L504.82 430.12 L505.43 431.00 L506.03 431.97 L506.63 433.02 L507.23 434.12 L507.83 435.28 L508.44 436.49 L509.04 437.73 L509.64 438.99 L510.24 440.26 L510.84 441.55 L511.44 442.84 L512.05 444.12 L512.65 445.40 L513.25 446.67 L513.85 447.92 L514.45 449.15 L515.06 450.37 L515.66 451.57 L516.26 452.75 L516.86 453.91 L517.46 455.06 L518.06 456.18 L518.67 457.29 L519.27 458.38 L519.87 459.45 L520.47 460.50 L521.07 461.54 L521.67 462.56 L522.28 463.56 L522.88 464.55 L523.48 465.53 L524.08 466.48 L524.68 467.42 L525.29 468.35 L525.89 469.26 L526.49 470.15 L527.09 471.02 L527.69 471.88 L528.29 472.72 L528.90 473.55 L529.50 474.35 L530.10 475.14 L530.70 475.91 L531.30 476.66 L531.91 477.40 L532.51 478.12 L533.11 478.82 L533.71 479.50 L534.31 480.16 L534.91 480.80 L535.52 481.43 L536.12 482.04 L536.72 482.63 L537.32 483.21 L537.92 483.77 L538.52 484.31 L539.13 484.83 L539.73 485.34 L540.33 485.83 L540.93 486.30 L541.53 486.76 L542.14 487.21 L542.74 487.64 L543.34 488.05 L543.94 488.45 L544.54 488.83 L545.14 489.21 L545.75 489.56 L546.35 489.91 L546.95 490.24 L547.55 490.56 L548.15 490.87 L548.76 491.16 L549.36 491.44 L549.96 491.71 L550.56 491.98 L551.16 492.23 L551.76 492.47 L552.37 492.70 L552.97 492.92 L553.57 493.13 L554.17 493.33 L554.77 493.52 L555.38 493.71 L555.98 493.88 L556.58 494.05 L557.18 494.21 L557.78 494.37 L558.38 494.52 L558.99 494.66 L559.59 494.79 L560.19 494.92 L560.79 495.04 L561.39 495.15 L561.99 495.26 L562.60 495.37 L563.20 495.47 L563.80 495.56 L564.40 495.65 L565.00 495.74 L565.61 495.82 L566.21 495.90 L566.81 495.97 L567.41 496.04 L568.01 496.11 L568.61 496.17 L569.22 496.23 L569.82 496.28 L570.42 496.34 L571.02 496.39 L571.62 496.44 L572.23 496.48 L572.83 496.52 L573.43 496.56 L574.03 496.60 L574.63 496.64 L575.23 496.67 L575.84 496.70 L576.44 496.73 L577.04 496.76 L577.64 496.79 L578.24 496.82 L578.84 496.84 L579.45 496.86 L580.05 496.88 L580.65 496.90 L581.25 496.92 L581.85 496.94 L582.46 496.96 L583.06 496.97 L583.66 496.99 L584.26 497.00 L584.86 497.01 L585.46 497.03 L586.07 497.04 L586.67 497.05 L587.27 497.06 L587.87 497.07 L588.47 497.08 L589.08 497.08 L589.68 497.09 L590.28 497.10 L590.88 497.11 L591.48 497.11 L592.08 497.12 L592.69 497.12 L593.29 497.13 L593.89 497.13 L594.49 497.14 L595.09 497.14 L595.69 497.15 L596.30 497.15 L596.90 497.15 L597.50 497.16" fill="none" stroke="#e64e4e" stroke-width="1.3"/>
<text transform="translate(408.6,452.0) rotate(-90)" font-size="4" fill="#777" text-anchor="middle">Heat release rate [-]</text>
<text x="512.7" y="511.0" font-size="4" text-anchor="middle" fill="#777">Crank angle [°CA]</text>
<rect x="575.1" y="392.1" width="21.8" height="21.8" rx="2.289" fill="#2563ff"/>
<path d="M581.59 397.30 L584.81 397.30 L585.41 401.46 L587.24 397.30 L588.28 397.30 L590.26 401.22 L590.26 397.30 L593.38 397.30 L593.38 408.85 L590.71 408.85 L587.68 403.89 L585.95 408.85 L581.59 408.85 Z" fill="#fff"/>
<path d="M585.11 401.51 L585.11 408.85" stroke="#b8ccff" stroke-width="0.30"/>
<path d="M581.94 399.53 Q583.52 398.79 584.71 400.13" fill="none" stroke="#c4d4ff" stroke-width="0.20"/>
<path d="M581.94 401.51 Q583.52 400.77 584.71 402.11" fill="none" stroke="#c4d4ff" stroke-width="0.20"/>
<path d="M581.94 403.50 Q583.52 402.75 584.71 404.09" fill="none" stroke="#c4d4ff" stroke-width="0.20"/>
<path d="M581.94 405.48 Q583.52 404.73 584.71 406.07" fill="none" stroke="#c4d4ff" stroke-width="0.20"/>
<path d="M581.94 407.46 Q583.52 406.72 584.71 408.05" fill="none" stroke="#c4d4ff" stroke-width="0.20"/>
<path d="M586.00 403.00 Q587.98 399.53 589.47 402.50 T592.44 406.96" fill="none" stroke="#d0defc" stroke-width="0.20"/>
<path d="M577.73 397.50 L580.35 397.50" stroke="#fff" stroke-width="1.19"/>
<path d="M577.73 400.92 L580.35 400.92" stroke="#fff" stroke-width="1.19"/>
<path d="M577.73 404.24 L580.35 404.24" stroke="#fff" stroke-width="1.19"/>
<path d="M577.73 407.61 L580.35 407.61" stroke="#fff" stroke-width="1.19"/>
<rect x="404.3" y="520.8" width="221.2" height="12.6" fill="#fff" stroke="#555" stroke-width="0.8"/>
<line x1="406.8" y1="527.1" x2="420.5" y2="527.1" stroke="#bdbdbd" stroke-width="1.2"/>
<text x="423.2" y="528.6" font-size="4.4" fill="#333" textLength="37.6" lengthAdjust="spacingAndGlyphs">Diesel pre-mixed</text>
<line x1="464.2" y1="527.1" x2="477.9" y2="527.1" stroke="#e8822a" stroke-width="1.2"/>
<text x="482.0" y="528.6" font-size="4.4" fill="#333" textLength="55.3" lengthAdjust="spacingAndGlyphs">Diesel - mixing controlled</text>
<line x1="541.0" y1="527.1" x2="556.2" y2="527.1" stroke="#3f86d8" stroke-width="1.2"/>
<text x="559.2" y="528.6" font-size="4.4" fill="#333" textLength="19.2" lengthAdjust="spacingAndGlyphs">Ammonia</text>
<line x1="583.0" y1="527.1" x2="597.8" y2="527.1" stroke="#e03a3a" stroke-width="1.2"/>
<text x="600.4" y="528.6" font-size="4.4" fill="#333" textLength="20.4" lengthAdjust="spacingAndGlyphs">Summary</text>
<line x1="20.5" y1="539.5" x2="626.4" y2="539.5" stroke="#9a9a9a" stroke-width="0.8"/>
<text x="23.2" y="552.9" font-size="8.6" fill="#777" textLength="461.2" lengthAdjust="spacingAndGlyphs">Source : Ricardo analysis - ‘High-Pressure Dual-Fuel Combustion Systems for Sustainable Maritime Engines’, MariNH₃ Conference 2025</text>
<rect x="0.0" y="566.2" width="644.0" height="47.4" fill="url(#bg2)"/>
<text x="153.2" y="595.5" font-size="18.6" font-weight="bold" fill="#fff" textLength="303.0" lengthAdjust="spacingAndGlyphs">Cutting emissions from combustion</text>
<rect x="551.2" y="567.6" width="44" height="44" rx="4.62" fill="#2563ff"/>
<path d="M564.30 578.10 L570.80 578.10 L572.00 586.50 L575.70 578.10 L577.80 578.10 L581.80 586.00 L581.80 578.10 L588.10 578.10 L588.10 601.40 L582.70 601.40 L576.60 591.40 L573.10 601.40 L564.30 601.40 Z" fill="#fff"/>
<path d="M571.40 586.60 L571.40 601.40" stroke="#b8ccff" stroke-width="0.60"/>
<path d="M565.00 582.60 Q568.20 581.10 570.60 583.80" fill="none" stroke="#c4d4ff" stroke-width="0.40"/>
<path d="M565.00 586.60 Q568.20 585.10 570.60 587.80" fill="none" stroke="#c4d4ff" stroke-width="0.40"/>
<path d="M565.00 590.60 Q568.20 589.10 570.60 591.80" fill="none" stroke="#c4d4ff" stroke-width="0.40"/>
<path d="M565.00 594.60 Q568.20 593.10 570.60 595.80" fill="none" stroke="#c4d4ff" stroke-width="0.40"/>
<path d="M565.00 598.60 Q568.20 597.10 570.60 599.80" fill="none" stroke="#c4d4ff" stroke-width="0.40"/>
<path d="M573.20 589.60 Q577.20 582.60 580.20 588.60 T586.20 597.60" fill="none" stroke="#d0defc" stroke-width="0.40"/>
<text transform="translate(561.60,601.90) rotate(-90)" font-size="4.80" font-weight="bold" fill="#fff" textLength="23.9" lengthAdjust="spacing">WAVE</text>
<rect x="597.2" y="567.6" width="44" height="44" rx="4.4" fill="#2563ff"/>
<path d="M609.90 577.90 L618.50 577.90 L623.10 591.30 L624.50 577.90 L632.90 577.90 L625.00 602.30 L616.80 602.30 Z" fill="#fff"/>
<ellipse cx="615.70" cy="583.60" rx="1.50" ry="0.70" fill="#4a78f5" transform="rotate(-35 615.70 583.60)"/>
<ellipse cx="618.70" cy="582.10" rx="1.50" ry="0.70" fill="#4a78f5" transform="rotate(-35 618.70 582.10)"/>
<ellipse cx="617.20" cy="587.10" rx="1.50" ry="0.70" fill="#4a78f5" transform="rotate(-35 617.20 587.10)"/>
<ellipse cx="620.20" cy="585.60" rx="1.50" ry="0.70" fill="#4a78f5" transform="rotate(-35 620.20 585.60)"/>
<ellipse cx="619.20" cy="590.60" rx="1.50" ry="0.70" fill="#4a78f5" transform="rotate(-35 619.20 590.60)"/>
<ellipse cx="622.20" cy="589.10" rx="1.50" ry="0.70" fill="#4a78f5" transform="rotate(-35 622.20 589.10)"/>
<ellipse cx="621.20" cy="594.10" rx="1.50" ry="0.70" fill="#4a78f5" transform="rotate(-35 621.20 594.10)"/>
<ellipse cx="624.20" cy="592.60" rx="1.50" ry="0.70" fill="#4a78f5" transform="rotate(-35 624.20 592.60)"/>
<ellipse cx="623.20" cy="596.60" rx="1.50" ry="0.70" fill="#4a78f5" transform="rotate(-35 623.20 596.60)"/>
<ellipse cx="625.70" cy="585.60" rx="1.50" ry="0.70" fill="#4a78f5" transform="rotate(-35 625.70 585.60)"/>
<ellipse cx="627.20" cy="582.10" rx="1.50" ry="0.70" fill="#4a78f5" transform="rotate(-35 627.20 582.10)"/>
<ellipse cx="626.70" cy="589.60" rx="1.50" ry="0.70" fill="#4a78f5" transform="rotate(-35 626.70 589.60)"/>
<ellipse cx="624.70" cy="581.80" rx="1.50" ry="0.70" fill="#4a78f5" transform="rotate(-35 624.70 581.80)"/>
<text transform="translate(608.00,601.90) rotate(-90)" font-size="4.40" font-weight="bold" fill="#fff" textLength="24.7" lengthAdjust="spacing">VECTIS</text>
<circle cx="26.0" cy="631.9" r="2.4" fill="#5a5a5a"/>
<text x="40.3" y="635.7" font-size="12.0" fill="#636363" textLength="358.0" lengthAdjust="spacingAndGlyphs">Fast accurate detailed chemical kinetics for emissions using 3D-CFD VECTIS</text>
<circle cx="26.0" cy="651.3" r="2.4" fill="#5a5a5a"/>
<text x="40.3" y="655.1" font-size="12.0" fill="#636363" textLength="344.0" lengthAdjust="spacingAndGlyphs">Captures fuel composition effects and pollutant formation using unique</text>
<text x="40.3" y="673.0" font-size="12.0" fill="#636363" textLength="135.5" lengthAdjust="spacingAndGlyphs">chemical clustering method</text>
<text x="36.5" y="827.0" font-size="4.8" text-anchor="end" fill="#444">0</text>
<line x1="40.7" y1="804.2" x2="184.2" y2="804.2" stroke="#e3e3e3" stroke-width="0.6"/>
<text x="36.5" y="805.9" font-size="4.8" text-anchor="end" fill="#444">2</text>
<line x1="40.7" y1="783.1" x2="184.2" y2="783.1" stroke="#e3e3e3" stroke-width="0.6"/>
<text x="36.5" y="784.8" font-size="4.8" text-anchor="end" fill="#444">4</text>
<line x1="40.7" y1="762.0" x2="184.2" y2="762.0" stroke="#e3e3e3" stroke-width="0.6"/>
<text x="36.5" y="763.7" font-size="4.8" text-anchor="end" fill="#444">6</text>
<line x1="40.7" y1="740.8" x2="184.2" y2="740.8" stroke="#e3e3e3" stroke-width="0.6"/>
<text x="36.5" y="742.5" font-size="4.8" text-anchor="end" fill="#444">8</text>
<line x1="40.7" y1="719.7" x2="184.2" y2="719.7" stroke="#e3e3e3" stroke-width="0.6"/>
<text x="36.5" y="721.4" font-size="4.8" text-anchor="end" fill="#444">10</text>
<text x="36.5" y="700.3" font-size="4.8" text-anchor="end" fill="#444">12</text>
<rect x="40.7" y="698.6" width="143.5" height="126.7" fill="none" stroke="#b8b8b8" stroke-width="0.8"/>
<rect x="59.2" y="754.6" width="36.0" height="70.7" fill="#0a6fc6"/>
<text x="77.2" y="752.4" font-size="4.8" text-anchor="middle" fill="#333">6.7</text>
<text x="77.2" y="833.5" font-size="4.8" text-anchor="middle" fill="#222">40</text>
<rect x="130.4" y="715.5" width="36.1" height="109.8" fill="#0a6fc6"/>
<text x="148.4" y="713.3" font-size="4.8" text-anchor="middle" fill="#333">10.4</text>
<text x="148.4" y="833.5" font-size="4.8" text-anchor="middle" fill="#222">20</text>
<text x="112.8" y="841.6" font-size="6.0" font-weight="bold" text-anchor="middle" fill="#222" textLength="76.6" lengthAdjust="spacingAndGlyphs">Diesel energy fraction [%]</text>
<text transform="translate(28.8,763.7) rotate(-90)" font-size="6.2" font-weight="bold" fill="#222" text-anchor="middle" textLength="110.5" lengthAdjust="spacingAndGlyphs">Brake specific unburned NH₃ [g/kWh]</text>
<text x="211.0" y="827.6" font-size="4.8" text-anchor="end" fill="#444">0</text>
<line x1="215.7" y1="804.5" x2="414.0" y2="804.5" stroke="#e3e3e3" stroke-width="0.6"/>
<text x="211.0" y="806.2" font-size="4.8" text-anchor="end" fill="#444">2</text>
<line x1="215.7" y1="783.1" x2="414.0" y2="783.1" stroke="#e3e3e3" stroke-width="0.6"/>
<text x="211.0" y="784.8" font-size="4.8" text-anchor="end" fill="#444">4</text>
<line x1="215.7" y1="761.7" x2="414.0" y2="761.7" stroke="#e3e3e3" stroke-width="0.6"/>
<text x="211.0" y="763.4" font-size="4.8" text-anchor="end" fill="#444">6</text>
<line x1="215.7" y1="740.3" x2="414.0" y2="740.3" stroke="#e3e3e3" stroke-width="0.6"/>
<text x="211.0" y="742.0" font-size="4.8" text-anchor="end" fill="#444">8</text>
<line x1="215.7" y1="718.9" x2="414.0" y2="718.9" stroke="#e3e3e3" stroke-width="0.6"/>
<text x="211.0" y="720.6" font-size="4.8" text-anchor="end" fill="#444">10</text>
<text x="211.0" y="699.2" font-size="4.8" text-anchor="end" fill="#444">12</text>
<rect x="215.7" y="697.5" width="198.3" height="128.4" fill="none" stroke="#b8b8b8" stroke-width="0.8"/>
<rect x="232.1" y="800.2" width="32.9" height="25.7" fill="#ff0000"/>
<text x="248.6" y="798.0" font-size="4.8" text-anchor="middle" fill="#333">2.4</text>
<text x="248.6" y="834.1" font-size="4.8" text-anchor="middle" fill="#222">20</text>
<rect x="298.2" y="790.6" width="32.8" height="35.3" fill="#ff0000"/>
<text x="314.6" y="788.4" font-size="4.8" text-anchor="middle" fill="#333">3.3</text>
<text x="314.6" y="834.1" font-size="4.8" text-anchor="middle" fill="#222">10</text>
<rect x="363.9" y="770.3" width="33.2" height="55.6" fill="#ff0000"/>
<text x="380.5" y="768.1" font-size="4.8" text-anchor="middle" fill="#333">5.2</text>
<text x="380.5" y="834.1" font-size="4.8" text-anchor="middle" fill="#222">3</text>
<text x="314.8" y="842.2" font-size="6.0" font-weight="bold" text-anchor="middle" fill="#222" textLength="76.8" lengthAdjust="spacingAndGlyphs">Diesel energy fraction [%]</text>
<text transform="translate(200.0,763.4) rotate(-90)" font-size="6.2" font-weight="bold" fill="#222" text-anchor="middle" textLength="109.0" lengthAdjust="spacingAndGlyphs">Brake specific unburned NH₃ [g/kWh]</text>
<text x="88.8" y="693.2" font-size="12.2" font-weight="bold" fill="#1f6fd0" textLength="32.2" lengthAdjust="spacingAndGlyphs">LPDF</text>
<text x="286.2" y="691.0" font-size="12.2" font-weight="bold" fill="#ff0000" textLength="32.9" lengthAdjust="spacingAndGlyphs">HPDF</text>
<line x1="19.8" y1="842.8" x2="414.8" y2="842.8" stroke="#9a9a9a" stroke-width="0.8"/>
<text x="23.0" y="857.1" font-size="8.6" fill="#777" textLength="392.2" lengthAdjust="spacingAndGlyphs">Source: Ricardo analysis, Li et al. (2022) ‘A comparison between low- and high-pressure injection dual-fuel modes</text>
<text x="51.0" y="868.2" font-size="8.6" fill="#777" textLength="189.1" lengthAdjust="spacingAndGlyphs">of diesel-pilot-ignition ammonia combustion engines’</text>
<defs><radialGradient id="cfd" cx="0.5" cy="0.55" r="0.5"><stop offset="0" stop-color="#ff4a1a"/><stop offset="0.18" stop-color="#ffd21a"/><stop offset="0.38" stop-color="#9be22a"/><stop offset="0.58" stop-color="#1ee0a0"/><stop offset="0.74" stop-color="#18b8ff"/><stop offset="0.86" stop-color="#1e50f0"/><stop offset="1" stop-color="#1a2ad8"/></radialGradient><linearGradient id="cbar" x1="0" y1="1" x2="0" y2="0"><stop offset="0" stop-color="#1a1ae0"/><stop offset="0.25" stop-color="#00c8ff"/><stop offset="0.5" stop-color="#30e030"/><stop offset="0.75" stop-color="#f0e020"/><stop offset="1" stop-color="#e01818"/></linearGradient></defs>
<defs><radialGradient id="cfd1" cx="0.5" cy="0.64" r="0.56"><stop offset="0" stop-color="#f0c800"/><stop offset="0.16" stop-color="#e0e000"/><stop offset="0.36" stop-color="#78e020"/><stop offset="0.54" stop-color="#20d868"/><stop offset="0.66" stop-color="#00d8d0"/><stop offset="0.78" stop-color="#00b8ff"/><stop offset="0.9" stop-color="#0068ff"/><stop offset="1" stop-color="#0030f8"/></radialGradient><radialGradient id="cfd3" cx="0.5" cy="0.64" r="0.56"><stop offset="0" stop-color="#f05000"/><stop offset="0.1" stop-color="#f0a000"/><stop offset="0.2" stop-color="#e0e000"/><stop offset="0.38" stop-color="#78e020"/><stop offset="0.54" stop-color="#20d868"/><stop offset="0.66" stop-color="#00d8d0"/><stop offset="0.78" stop-color="#00b8ff"/><stop offset="0.9" stop-color="#0068ff"/><stop offset="1" stop-color="#0030f8"/></radialGradient><linearGradient id="pl" x1="0" y1="0" x2="1" y2="0"><stop offset="0" stop-color="#15208c"/><stop offset="0.12" stop-color="#1a3aa8"/><stop offset="0.28" stop-color="#1a8a9a"/><stop offset="0.42" stop-color="#b87a20"/><stop offset="0.5" stop-color="#a86a18"/><stop offset="0.6" stop-color="#6a9a30"/><stop offset="0.8" stop-color="#1a5aa8"/><stop offset="1" stop-color="#14208a"/></linearGradient></defs>
<path d="M518.8 647.9 L518.6 650.2 L518.1 652.3 L517.3 654.3 L516.1 656.2 L514.7 658.0 L512.9 659.8 L510.8 661.4 L508.4 662.9 L505.7 664.3 L502.8 665.5 L499.7 666.7 L496.3 667.7 L492.7 668.5 L488.9 669.2 L484.9 669.8 L480.7 670.2 L476.3 670.4 L471.4 670.5 L466.5 670.4 L462.1 670.2 L457.9 669.8 L453.9 669.2 L450.1 668.5 L446.5 667.7 L443.1 666.7 L440.0 665.5 L437.1 664.3 L434.4 662.9 L432.0 661.4 L429.9 659.8 L428.1 658.0 L426.7 656.2 L425.5 654.3 L424.7 652.3 L424.2 650.2 L424.0 647.9 L424.2 645.6 L424.7 643.5 L425.5 641.5 L426.7 639.6 L428.1 637.8 L429.9 636.0 L432.0 634.4 L434.4 632.9 L437.1 631.5 L440.0 630.3 L443.1 629.1 L446.5 628.1 L450.1 627.3 L453.9 626.6 L457.9 626.0 L462.1 625.6 L466.5 625.4 L471.4 625.3 L476.3 625.4 L480.7 625.6 L484.9 626.0 L488.9 626.6 L492.7 627.3 L496.3 628.1 L499.7 629.1 L502.8 630.3 L505.7 631.5 L508.4 632.9 L510.8 634.4 L512.9 636.0 L514.7 637.8 L516.1 639.6 L517.3 641.5 L518.1 643.5 L518.6 645.6 Z" fill="#0a12e4"/>
<path d="M512.3 646.4 L512.1 648.0 L511.7 649.5 L510.9 651.0 L509.9 652.4 L508.6 653.8 L506.9 655.1 L505.1 656.3 L502.9 657.5 L500.6 658.6 L498.0 659.6 L495.2 660.5 L492.2 661.3 L489.1 661.9 L485.8 662.5 L482.3 662.9 L478.8 663.2 L475.2 663.4 L471.4 663.5 L467.6 663.4 L464.0 663.2 L460.5 662.9 L457.0 662.5 L453.7 661.9 L450.6 661.3 L447.6 660.5 L444.8 659.6 L442.2 658.6 L439.9 657.5 L437.7 656.3 L435.9 655.1 L434.2 653.8 L432.9 652.4 L431.9 651.0 L431.1 649.5 L430.7 648.0 L430.5 646.4 L430.7 644.8 L431.1 643.3 L431.9 641.8 L432.9 640.4 L434.2 639.0 L435.9 637.7 L437.7 636.5 L439.9 635.3 L442.2 634.2 L444.8 633.2 L447.6 632.3 L450.6 631.5 L453.7 630.9 L457.0 630.3 L460.5 629.9 L464.0 629.6 L467.6 629.4 L471.4 629.3 L475.2 629.4 L478.8 629.6 L482.3 629.9 L485.8 630.3 L489.1 630.9 L492.2 631.5 L495.2 632.3 L498.0 633.2 L500.6 634.2 L502.9 635.3 L505.1 636.5 L506.9 637.7 L508.6 639.0 L509.9 640.4 L510.9 641.8 L511.7 643.3 L512.1 644.8 Z" fill="url(#cfd1)"/>
<defs><linearGradient id="pg1" gradientUnits="userSpaceOnUse" x1="433.4" y1="631.2" x2="508.5" y2="669.7"><stop offset="0" stop-color="#16208c"/><stop offset="0.14" stop-color="#1c3cb0"/><stop offset="0.32" stop-color="#1a8a9a"/><stop offset="0.46" stop-color="#b86a18"/><stop offset="0.56" stop-color="#c89a20"/><stop offset="0.7" stop-color="#58a840"/><stop offset="0.84" stop-color="#1c70b8"/><stop offset="0.93" stop-color="#16309a"/><stop offset="1" stop-color="#14208a"/></linearGradient></defs>
<path d="M433.7 630.6 L510.3 666.1 L506.7 673.3 L433.1 631.8 Z" fill="url(#pg1)"/>
<path d="M433.7 630.6 L510.3 666.1" stroke="#101a80" stroke-width="0.8"/>
<defs><linearGradient id="pg2" gradientUnits="userSpaceOnUse" x1="435.0" y1="664.5" x2="493.2" y2="627.0"><stop offset="0" stop-color="#14208a"/><stop offset="0.06" stop-color="#16309a"/><stop offset="0.14" stop-color="#1a78c0"/><stop offset="0.28" stop-color="#50b050"/><stop offset="0.42" stop-color="#c8b020"/><stop offset="0.55" stop-color="#c07818"/><stop offset="0.7" stop-color="#1a90a0"/><stop offset="0.88" stop-color="#1c40b0"/><stop offset="1" stop-color="#16208c"/></linearGradient></defs>
<path d="M434.6 663.9 L491.1 623.8 L495.3 630.2 L435.4 665.1 Z" fill="url(#pg2)"/>
<path d="M434.6 663.9 L491.1 623.8" stroke="#101a80" stroke-width="0.8"/>
<path d="M637.4 647.7 L637.2 650.2 L636.7 652.4 L635.8 654.5 L634.6 656.5 L633.0 658.5 L631.1 660.3 L628.8 662.0 L626.3 663.6 L623.5 665.1 L620.4 666.4 L617.0 667.6 L613.4 668.7 L609.6 669.6 L605.5 670.4 L601.3 670.9 L596.8 671.4 L592.1 671.6 L586.9 671.7 L581.7 671.6 L577.0 671.4 L572.5 670.9 L568.3 670.4 L564.2 669.6 L560.4 668.7 L556.8 667.6 L553.4 666.4 L550.3 665.1 L547.5 663.6 L545.0 662.0 L542.7 660.3 L540.8 658.5 L539.2 656.5 L538.0 654.5 L537.1 652.4 L536.6 650.2 L536.4 647.7 L536.6 645.2 L537.1 643.0 L538.0 640.9 L539.2 638.9 L540.8 636.9 L542.7 635.1 L545.0 633.4 L547.5 631.8 L550.3 630.3 L553.4 629.0 L556.8 627.8 L560.4 626.7 L564.2 625.8 L568.3 625.0 L572.5 624.5 L577.0 624.0 L581.7 623.8 L586.9 623.7 L592.1 623.8 L596.8 624.0 L601.3 624.5 L605.5 625.0 L609.6 625.8 L613.4 626.7 L617.0 627.8 L620.4 629.0 L623.5 630.3 L626.3 631.8 L628.8 633.4 L631.1 635.1 L633.0 636.9 L634.6 638.9 L635.8 640.9 L636.7 643.0 L637.2 645.2 Z" fill="#0a12e4"/>
<path d="M630.9 646.2 L630.7 647.9 L630.2 649.6 L629.4 651.1 L628.3 652.7 L626.9 654.2 L625.1 655.6 L623.1 657.0 L620.8 658.2 L618.3 659.4 L615.5 660.5 L612.5 661.4 L609.3 662.3 L605.9 663.0 L602.3 663.6 L598.7 664.1 L594.9 664.4 L591.0 664.6 L586.9 664.7 L582.8 664.6 L578.9 664.4 L575.1 664.1 L571.5 663.6 L567.9 663.0 L564.5 662.3 L561.3 661.4 L558.3 660.5 L555.5 659.4 L553.0 658.2 L550.7 657.0 L548.7 655.6 L546.9 654.2 L545.5 652.7 L544.4 651.1 L543.6 649.6 L543.1 647.9 L542.9 646.2 L543.1 644.5 L543.6 642.8 L544.4 641.3 L545.5 639.7 L546.9 638.2 L548.7 636.8 L550.7 635.4 L553.0 634.2 L555.5 633.0 L558.3 631.9 L561.3 631.0 L564.5 630.1 L567.9 629.4 L571.5 628.8 L575.1 628.3 L578.9 628.0 L582.8 627.8 L586.9 627.7 L591.0 627.8 L594.9 628.0 L598.7 628.3 L602.3 628.8 L605.9 629.4 L609.3 630.1 L612.5 631.0 L615.5 631.9 L618.3 633.0 L620.8 634.2 L623.1 635.4 L625.1 636.8 L626.9 638.2 L628.3 639.7 L629.4 641.3 L630.2 642.8 L630.7 644.5 Z" fill="url(#cfd1)"/>
<defs><linearGradient id="pg3" gradientUnits="userSpaceOnUse" x1="547.0" y1="630.4" x2="626.9" y2="670.8"><stop offset="0" stop-color="#16208c"/><stop offset="0.14" stop-color="#1c3cb0"/><stop offset="0.32" stop-color="#1a8a9a"/><stop offset="0.46" stop-color="#b86a18"/><stop offset="0.56" stop-color="#c89a20"/><stop offset="0.7" stop-color="#58a840"/><stop offset="0.84" stop-color="#1c70b8"/><stop offset="0.93" stop-color="#16309a"/><stop offset="1" stop-color="#14208a"/></linearGradient></defs>
<path d="M547.3 629.8 L628.7 667.2 L625.1 674.4 L546.7 631.0 Z" fill="url(#pg3)"/>
<path d="M547.3 629.8 L628.7 667.2" stroke="#101a80" stroke-width="0.8"/>
<defs><linearGradient id="pg4" gradientUnits="userSpaceOnUse" x1="548.9" y1="665.0" x2="606.6" y2="624.6"><stop offset="0" stop-color="#14208a"/><stop offset="0.06" stop-color="#16309a"/><stop offset="0.14" stop-color="#1a78c0"/><stop offset="0.28" stop-color="#50b050"/><stop offset="0.42" stop-color="#c8b020"/><stop offset="0.55" stop-color="#c07818"/><stop offset="0.7" stop-color="#1a90a0"/><stop offset="0.88" stop-color="#1c40b0"/><stop offset="1" stop-color="#16208c"/></linearGradient></defs>
<path d="M548.5 664.4 L604.4 621.5 L608.8 627.7 L549.3 665.6 Z" fill="url(#pg4)"/>
<path d="M548.5 664.4 L604.4 621.5" stroke="#101a80" stroke-width="0.8"/>
<path d="M521.3 708.5 L521.1 711.1 L520.6 713.5 L519.7 715.8 L518.5 717.9 L516.9 719.9 L515.0 721.9 L512.8 723.7 L510.3 725.4 L507.5 727.0 L504.4 728.4 L501.1 729.7 L497.5 730.8 L493.7 731.8 L489.7 732.6 L485.5 733.2 L481.1 733.6 L476.5 733.9 L471.3 734.0 L466.1 733.9 L461.5 733.6 L457.1 733.2 L452.9 732.6 L448.9 731.8 L445.1 730.8 L441.5 729.7 L438.2 728.4 L435.1 727.0 L432.3 725.4 L429.8 723.7 L427.6 721.9 L425.7 719.9 L424.1 717.9 L422.9 715.8 L422.0 713.5 L421.5 711.1 L421.3 708.5 L421.5 705.9 L422.0 703.5 L422.9 701.2 L424.1 699.1 L425.7 697.1 L427.6 695.1 L429.8 693.3 L432.3 691.6 L435.1 690.0 L438.2 688.6 L441.5 687.3 L445.1 686.2 L448.9 685.2 L452.9 684.4 L457.1 683.8 L461.5 683.4 L466.1 683.1 L471.3 683.0 L476.5 683.1 L481.1 683.4 L485.5 683.8 L489.7 684.4 L493.7 685.2 L497.5 686.2 L501.1 687.3 L504.4 688.6 L507.5 690.0 L510.3 691.6 L512.8 693.3 L515.0 695.1 L516.9 697.1 L518.5 699.1 L519.7 701.2 L520.6 703.5 L521.1 705.9 Z" fill="#0a12e4"/>
<path d="M514.8 707.0 L514.6 708.9 L514.2 710.6 L513.4 712.3 L512.2 714.0 L510.8 715.6 L509.1 717.2 L507.1 718.6 L504.8 720.0 L502.3 721.3 L499.6 722.4 L496.6 723.5 L493.4 724.4 L490.1 725.2 L486.6 725.8 L482.9 726.3 L479.2 726.7 L475.3 726.9 L471.3 727.0 L467.3 726.9 L463.4 726.7 L459.7 726.3 L456.0 725.8 L452.5 725.2 L449.2 724.4 L446.0 723.5 L443.0 722.4 L440.3 721.3 L437.8 720.0 L435.5 718.6 L433.5 717.2 L431.8 715.6 L430.4 714.0 L429.2 712.3 L428.4 710.6 L428.0 708.9 L427.8 707.0 L428.0 705.1 L428.4 703.4 L429.2 701.7 L430.4 700.0 L431.8 698.4 L433.5 696.8 L435.5 695.4 L437.8 694.0 L440.3 692.7 L443.0 691.6 L446.0 690.5 L449.2 689.6 L452.5 688.8 L456.0 688.2 L459.7 687.7 L463.4 687.3 L467.3 687.1 L471.3 687.0 L475.3 687.1 L479.2 687.3 L482.9 687.7 L486.6 688.2 L490.1 688.8 L493.4 689.6 L496.6 690.5 L499.6 691.6 L502.3 692.7 L504.8 694.0 L507.1 695.4 L509.1 696.8 L510.8 698.4 L512.2 700.0 L513.4 701.7 L514.2 703.4 L514.6 705.1 Z" fill="url(#cfd3)"/>
<defs><linearGradient id="pg5" gradientUnits="userSpaceOnUse" x1="432.0" y1="692.0" x2="511.4" y2="731.3"><stop offset="0" stop-color="#16208c"/><stop offset="0.14" stop-color="#1c3cb0"/><stop offset="0.32" stop-color="#1a8a9a"/><stop offset="0.46" stop-color="#b86a18"/><stop offset="0.56" stop-color="#c89a20"/><stop offset="0.7" stop-color="#58a840"/><stop offset="0.84" stop-color="#1c70b8"/><stop offset="0.93" stop-color="#16309a"/><stop offset="1" stop-color="#14208a"/></linearGradient></defs>
<path d="M432.3 691.4 L513.2 727.7 L509.6 734.9 L431.7 692.6 Z" fill="url(#pg5)"/>
<path d="M432.3 691.4 L513.2 727.7" stroke="#101a80" stroke-width="0.8"/>
<defs><linearGradient id="pg6" gradientUnits="userSpaceOnUse" x1="432.9" y1="726.8" x2="490.0" y2="684.8"><stop offset="0" stop-color="#14208a"/><stop offset="0.06" stop-color="#16309a"/><stop offset="0.14" stop-color="#1a78c0"/><stop offset="0.28" stop-color="#50b050"/><stop offset="0.42" stop-color="#c8b020"/><stop offset="0.55" stop-color="#c07818"/><stop offset="0.7" stop-color="#1a90a0"/><stop offset="0.88" stop-color="#1c40b0"/><stop offset="1" stop-color="#16208c"/></linearGradient></defs>
<path d="M432.5 726.2 L487.7 681.7 L492.3 687.9 L433.3 727.4 Z" fill="url(#pg6)"/>
<path d="M432.5 726.2 L487.7 681.7" stroke="#101a80" stroke-width="0.8"/>
<text x="427.9" y="625.6" font-size="7.4" font-weight="bold" fill="#222" textLength="20.8" lengthAdjust="spacingAndGlyphs">2025.1</text>
<text x="524.8" y="628.1" font-size="7.4" font-weight="bold" fill="#222" textLength="21.2" lengthAdjust="spacingAndGlyphs">2025.2</text>
<text x="425.4" y="743.8" font-size="7.8" font-weight="bold" fill="#333" font-family="Liberation Serif, serif" textLength="83" lengthAdjust="spacingAndGlyphs">2025.2 - <tspan font-style="italic">ε</tspan> = 10<tspan font-size="5" dy="-3">−4</tspan><tspan dy="3">  − 50%</tspan></text>
<rect x="553.7" y="678.3" width="2.8" height="64.7" fill="url(#cbar)"/>
<text x="551.2" y="679.4" font-size="3.0" font-weight="bold" text-anchor="end" fill="#222">0.0075</text>
<text x="551.2" y="692.3" font-size="3.0" font-weight="bold" text-anchor="end" fill="#222">0.006</text>
<text x="551.2" y="705.3" font-size="3.0" font-weight="bold" text-anchor="end" fill="#222">0.0045</text>
<text x="551.2" y="718.2" font-size="3.0" font-weight="bold" text-anchor="end" fill="#222">0.003</text>
<text x="551.2" y="731.2" font-size="3.0" font-weight="bold" text-anchor="end" fill="#222">0.0015</text>
<text x="551.2" y="744.1" font-size="3.0" font-weight="bold" text-anchor="end" fill="#222">0</text>
<text transform="translate(539.6,712.2) rotate(-90)" font-size="3.0" font-weight="bold" fill="#222" text-anchor="middle" textLength="19" lengthAdjust="spacingAndGlyphs">NH3 Mass Frac.</text>
<rect x="577.8" y="696.5" width="21.2" height="21.2" rx="2.12" fill="#2563ff"/>
<path d="M583.92 701.46 L588.06 701.46 L590.28 707.92 L590.95 701.46 L595.00 701.46 L591.19 713.22 L587.24 713.22 Z" fill="#fff"/>
<ellipse cx="586.71" cy="704.21" rx="0.72" ry="0.34" fill="#4a78f5" transform="rotate(-35 586.71 704.21)"/>
<ellipse cx="588.16" cy="703.49" rx="0.72" ry="0.34" fill="#4a78f5" transform="rotate(-35 588.16 703.49)"/>
<ellipse cx="587.44" cy="705.90" rx="0.72" ry="0.34" fill="#4a78f5" transform="rotate(-35 587.44 705.90)"/>
<ellipse cx="588.88" cy="705.17" rx="0.72" ry="0.34" fill="#4a78f5" transform="rotate(-35 588.88 705.17)"/>
<ellipse cx="588.40" cy="707.58" rx="0.72" ry="0.34" fill="#4a78f5" transform="rotate(-35 588.40 707.58)"/>
<ellipse cx="589.85" cy="706.86" rx="0.72" ry="0.34" fill="#4a78f5" transform="rotate(-35 589.85 706.86)"/>
<ellipse cx="589.36" cy="709.27" rx="0.72" ry="0.34" fill="#4a78f5" transform="rotate(-35 589.36 709.27)"/>
<ellipse cx="590.81" cy="708.55" rx="0.72" ry="0.34" fill="#4a78f5" transform="rotate(-35 590.81 708.55)"/>
<ellipse cx="590.33" cy="710.47" rx="0.72" ry="0.34" fill="#4a78f5" transform="rotate(-35 590.33 710.47)"/>
<ellipse cx="591.53" cy="705.17" rx="0.72" ry="0.34" fill="#4a78f5" transform="rotate(-35 591.53 705.17)"/>
<ellipse cx="592.25" cy="703.49" rx="0.72" ry="0.34" fill="#4a78f5" transform="rotate(-35 592.25 703.49)"/>
<ellipse cx="592.01" cy="707.10" rx="0.72" ry="0.34" fill="#4a78f5" transform="rotate(-35 592.01 707.10)"/>
<ellipse cx="591.05" cy="703.34" rx="0.72" ry="0.34" fill="#4a78f5" transform="rotate(-35 591.05 703.34)"/>
<path d="M580.93 702.04 L583.10 702.04" stroke="#fff" stroke-width="0.87"/>
<path d="M580.93 704.45 L583.10 704.45" stroke="#fff" stroke-width="0.87"/>
<path d="M580.93 706.86 L583.10 706.86" stroke="#fff" stroke-width="0.87"/>
<path d="M580.93 709.27 L583.10 709.27" stroke="#fff" stroke-width="0.87"/>
<path d="M580.93 711.68 L583.10 711.68" stroke="#fff" stroke-width="0.87"/>
<line x1="478.6" y1="871.4" x2="600.0" y2="871.4" stroke="#e8e8e8" stroke-width="0.6"/>
<text x="474.5" y="872.6" font-size="3.6" text-anchor="end" fill="#888">0.00</text>
<line x1="478.6" y1="848.1" x2="600.0" y2="848.1" stroke="#e8e8e8" stroke-width="0.6"/>
<text x="474.5" y="849.3" font-size="3.6" text-anchor="end" fill="#888">0.20</text>
<line x1="478.6" y1="824.8" x2="600.0" y2="824.8" stroke="#e8e8e8" stroke-width="0.6"/>
<text x="474.5" y="826.0" font-size="3.6" text-anchor="end" fill="#888">0.40</text>
<line x1="478.6" y1="801.5" x2="600.0" y2="801.5" stroke="#e8e8e8" stroke-width="0.6"/>
<text x="474.5" y="802.7" font-size="3.6" text-anchor="end" fill="#888">0.60</text>
<line x1="478.6" y1="778.2" x2="600.0" y2="778.2" stroke="#e8e8e8" stroke-width="0.6"/>
<text x="474.5" y="779.4" font-size="3.6" text-anchor="end" fill="#888">0.80</text>
<line x1="478.6" y1="754.9" x2="600.0" y2="754.9" stroke="#e8e8e8" stroke-width="0.6"/>
<text x="474.5" y="756.1" font-size="3.6" text-anchor="end" fill="#888">1.00</text>
<rect x="490.9" y="754.9" width="15.7" height="44.3" fill="#00ffff"/>
<rect x="490.9" y="799.2" width="15.7" height="72.2" fill="#2160f0"/>
<text x="498.8" y="878.3" font-size="3.6" text-anchor="middle" fill="#888">2025.1</text>
<rect x="531.4" y="802.7" width="15.7" height="44.3" fill="#00ffff"/>
<rect x="531.4" y="846.9" width="15.7" height="24.5" fill="#2160f0"/>
<text x="539.2" y="878.3" font-size="3.6" text-anchor="middle" fill="#888">2025.2</text>
<rect x="571.4" y="819.0" width="16.3" height="46.6" fill="#00ffff"/>
<rect x="571.4" y="865.6" width="16.3" height="5.8" fill="#2160f0"/>
<text x="579.5" y="878.3" font-size="3.6" text-anchor="middle" fill="#888">2025.2 Clustering</text>
<text transform="translate(463.3,815.7) rotate(-90)" font-size="4.2" fill="#666" text-anchor="middle" textLength="42" lengthAdjust="spacingAndGlyphs">Normalised runtime</text>
<rect x="562.8" y="760.8" width="3.0" height="3.0" fill="#00ffff"/>
<text x="567.2" y="763.8" font-size="4.6" fill="#333" textLength="13.0" lengthAdjust="spacingAndGlyphs">Other</text>
<rect x="562.8" y="767.2" width="3.0" height="3.0" fill="#2160f0"/>
<text x="567.2" y="770.2" font-size="4.6" fill="#333" textLength="26.5" lengthAdjust="spacingAndGlyphs">Combustion</text>
<defs><marker id="ah" markerWidth="3.2" markerHeight="3.2" refX="1.6" refY="1.6" orient="auto"><path d="M0 0 L3.2 1.6 L0 3.2 Z" fill="#333"/></marker></defs>
<path d="M513 756.3 C530 757 539 770 538.6 792" fill="none" stroke="#333" stroke-width="0.9" marker-end="url(#ah)"/>
<path d="M514 756.3 C555 758 580 780 580.2 808" fill="none" stroke="#333" stroke-width="0.9" marker-end="url(#ah)"/>
<text x="520.2" y="788.3" font-size="5.4" fill="#444" textLength="13.2" lengthAdjust="spacingAndGlyphs">× 1.7</text>
<text x="559.8" y="796.5" font-size="5.4" fill="#444" textLength="12.6" lengthAdjust="spacingAndGlyphs">× 2.2</text>
<text x="28.6" y="896.7" font-size="12.8" fill="#2f52cc" textLength="132.3" lengthAdjust="spacingAndGlyphs" stroke="#2f52cc" stroke-width="0.55">Accelerating Possibilities</text>
<text x="273.2" y="889.5" font-size="8.4" fill="#3b6ad6" textLength="157.8" lengthAdjust="spacingAndGlyphs">CONTACT@REALIS-SIMULATION.COM</text>
<text x="297.8" y="898.8" font-size="8.4" fill="#3b6ad6" textLength="108.0" lengthAdjust="spacingAndGlyphs">REALIS-SIMULATION.COM</text>
<text x="556.4" y="895.2" font-size="12.3" fill="#6a6a6a" textLength="65.3" lengthAdjust="spacingAndGlyphs">October 2025</text>
</svg>
</body></html>
